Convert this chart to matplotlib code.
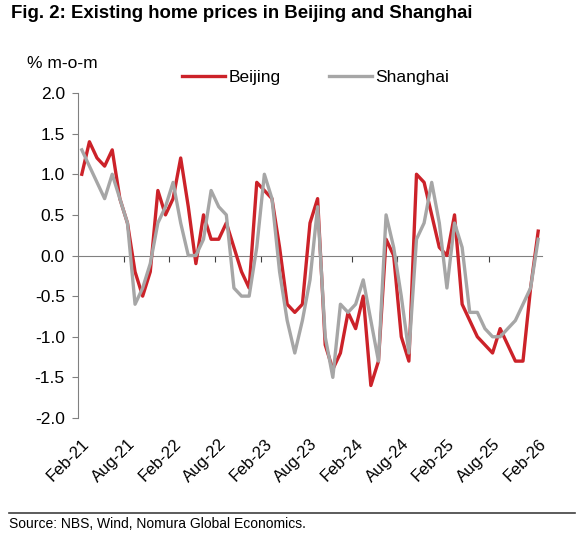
import numpy as np
import matplotlib.pyplot as plt

plt.rcParams['font.family'] = ['Liberation Sans', 'DejaVu Sans']

# monthly, Feb-21 .. Feb-26, % m-o-m
beijing = [1.0, 1.4, 1.2, 1.1, 1.3, 0.7, 0.4, -0.2, -0.5, -0.2, 0.8, 0.5,
           0.7, 1.2, 0.6, -0.1, 0.5, 0.2, 0.2, 0.4, 0.1, -0.2, -0.4, 0.9,
           0.8, 0.7, 0.1, -0.6, -0.7, -0.6, 0.4, 0.7, -1.1, -1.4, -1.2, -0.7,
           -0.9, -0.5, -1.6, -1.3, 0.2, 0.0, -1.0, -1.3, 1.0, 0.9, 0.5, 0.1,
           0.0, 0.5, -0.6, -0.8, -1.0, -1.1, -1.2, -0.9, -1.1, -1.3, -1.3, -0.4,
           0.3]
shanghai = [1.3, 1.1, 0.9, 0.7, 1.0, 0.7, 0.4, -0.6, -0.4, -0.1, 0.4, 0.6,
            0.9, 0.4, 0.0, 0.0, 0.2, 0.8, 0.6, 0.5, -0.4, -0.5, -0.5, 0.1,
            1.0, 0.7, -0.2, -0.8, -1.2, -0.8, -0.3, 0.6, -1.0, -1.5, -0.6, -0.7,
            -0.6, -0.3, -0.8, -1.3, 0.5, 0.1, -0.5, -1.2, 0.2, 0.4, 0.9, 0.4,
            -0.4, 0.4, 0.1, -0.7, -0.7, -0.9, -1.0, -1.0, -0.9, -0.8, -0.6, -0.4,
            0.2]
date_labels = ["Feb-21", "Aug-21", "Feb-22", "Aug-22", "Feb-23", "Aug-23",
               "Feb-24", "Aug-24", "Feb-25", "Aug-25", "Feb-26"]
yticks = [2.0, 1.5, 1.0, 0.5, 0.0, -0.5, -1.0, -1.5, -2.0]

x = np.arange(len(beijing))

fig = plt.figure(figsize=(5.85, 5.39), dpi=100)
ax = fig.add_axes([78 / 585, 1 - 418 / 539, (542 - 78) / 585, (418 - 93) / 539])

ax.plot(x, beijing, c='#CC2229', lw=2.4, label="Beijing", zorder=3)
ax.plot(x, shanghai, c='#A6A6A6', lw=2.4, label="Shanghai", zorder=3)

ax.set_xlim(-0.5, len(x) - 0.5)
ax.set_ylim(-2.0, 2.0)
ax.set_yticks(yticks)
ax.set_yticklabels(["%.1f" % v for v in yticks], fontsize=12.5)
ax.tick_params(axis='y', length=4, color='#808080', pad=5.5)

for s in ['top', 'right']:
    ax.spines[s].set_visible(False)
ax.spines['left'].set_color('#808080')
ax.spines['bottom'].set_position(('data', 0))
ax.spines['bottom'].set_color('#808080')
ax.set_xticks(np.arange(5.5, len(x), 6))
ax.tick_params(axis='x', length=4, color='#404040', labelbottom=False)

sec = ax.secondary_xaxis('bottom')
sec.spines['bottom'].set_visible(False)
sec.set_xticks(x[::6])
sec.set_xticklabels(date_labels, rotation=45, ha='right', rotation_mode='anchor', fontsize=12)
sec.tick_params(length=0, pad=13)

fig.text(11 / 585, 1 - 13 / 539, "Fig. 2: Existing home prices in Beijing and Shanghai",
         fontsize=13.4, fontweight='bold', va='center', ha='left')
fig.text(27 / 585, 1 - 64 / 539, "% m-o-m", fontsize=12.5, va='center', ha='left')

ax.legend(loc='center left', bbox_to_anchor=((182 - 78) / 464, 1 + 16 / 325), ncol=2,
          frameon=False, fontsize=12.5, handlelength=2.5, handletextpad=0.2,
          columnspacing=2.75, borderaxespad=0, borderpad=0)

fig.add_artist(plt.Line2D([9 / 585, 575 / 585], [1 - 513 / 539, 1 - 513 / 539],
                          color='#404040', lw=1.2))
fig.text(9 / 585, 1 - 524 / 539, "Source: NBS, Wind, Nomura Global Economics.",
         fontsize=10, va='center', ha='left')

plt.savefig("out.png", dpi=100)
